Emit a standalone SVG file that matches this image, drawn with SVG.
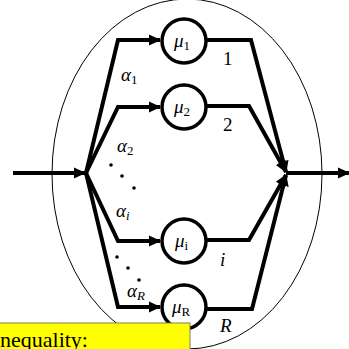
<svg xmlns="http://www.w3.org/2000/svg" width="349" height="349" viewBox="0 0 349 349">
<style>
.ln{fill:none;stroke:#000;stroke-width:4;stroke-linejoin:miter}
.nd{fill:#fff;stroke:#000;stroke-width:3.5}
text{font-family:'Liberation Serif','Times New Roman',serif;fill:#000}
.t{font-size:19px}
.it{font-style:italic}
.sb{font-size:13px}
</style>
<defs>
<marker id="ah" markerUnits="userSpaceOnUse" markerWidth="12" markerHeight="12" refX="11" refY="6" orient="auto">
<path d="M0,0.5 L12,6 L0,11.5 z" fill="#000"/>
</marker>
</defs>
<ellipse cx="187" cy="174" rx="135" ry="175" fill="none" stroke="#000" stroke-width="1"/>
<g id="connectors">
<line class="ln" x1="13" y1="173" x2="85" y2="173" marker-end="url(#ah)"/>
<polyline class="ln" points="86,173 118,40 160,40" marker-end="url(#ah)"/>
<polyline class="ln" points="86,173 118,107 160,107" marker-end="url(#ah)"/>
<polyline class="ln" points="86,173 118,241 160,241" marker-end="url(#ah)"/>
<polyline class="ln" points="86,173 118,307 160,307" marker-end="url(#ah)"/>
<polyline class="ln" points="206,40 251,40 286,172" marker-end="url(#ah)"/>
<polyline class="ln" points="206,106 249,106 286,172" marker-end="url(#ah)"/>
<polyline class="ln" points="206,240 249,240 286,175" marker-end="url(#ah)"/>
<polyline class="ln" points="206,309 252,309 286,175" marker-end="url(#ah)"/>
<line class="ln" x1="286" y1="173" x2="349" y2="173" marker-end="url(#ah)"/>
</g>
<g id="node1"><circle class="nd" cx="184" cy="41" r="22"/><text class="t" x="174" y="47"><tspan class="it">μ</tspan><tspan class="sb" dy="3">1</tspan></text></g>
<g id="node2"><circle class="nd" cx="184" cy="107" r="22"/><text class="t" x="174" y="113"><tspan class="it">μ</tspan><tspan class="sb" dy="3">2</tspan></text></g>
<g id="nodei"><circle class="nd" cx="184" cy="241" r="22"/><text class="t" x="175" y="247"><tspan class="it">μ</tspan><tspan class="sb" dy="3">i</tspan></text></g>
<g id="nodeR"><circle class="nd" cx="184" cy="307" r="22"/><text class="t" x="172" y="313"><tspan class="it">μ</tspan><tspan class="sb" dy="3">R</tspan></text></g>
<g id="labels">
<text class="t" x="121" y="81"><tspan class="it">α</tspan><tspan class="sb" dy="3">1</tspan></text>
<text class="t" x="117" y="152"><tspan class="it">α</tspan><tspan class="sb" dy="3">2</tspan></text>
<text class="t" x="116" y="217"><tspan class="it">α</tspan><tspan class="sb it" dy="3">i</tspan></text>
<text class="t" x="127" y="297"><tspan class="it">α</tspan><tspan class="sb it" dy="3">R</tspan></text>
<text class="t" x="223" y="65">1</text>
<text class="t" x="223" y="131">2</text>
<text class="t it" x="220" y="266">i</text>
<text class="t it" x="220" y="332">R</text>
<circle cx="111" cy="165" r="1.8"/><circle cx="122" cy="176" r="1.8"/><circle cx="134" cy="188" r="1.8"/>
<circle cx="117" cy="257" r="1.8"/><circle cx="128" cy="268" r="1.8"/><circle cx="139" cy="280" r="1.8"/>
</g>
<g id="note">
<rect x="-5" y="323" width="195" height="40" fill="#ffff00" stroke="#7f7f60" stroke-width="1"/>
<text x="0" y="347" font-size="22">nequality:</text>
</g>
</svg>
